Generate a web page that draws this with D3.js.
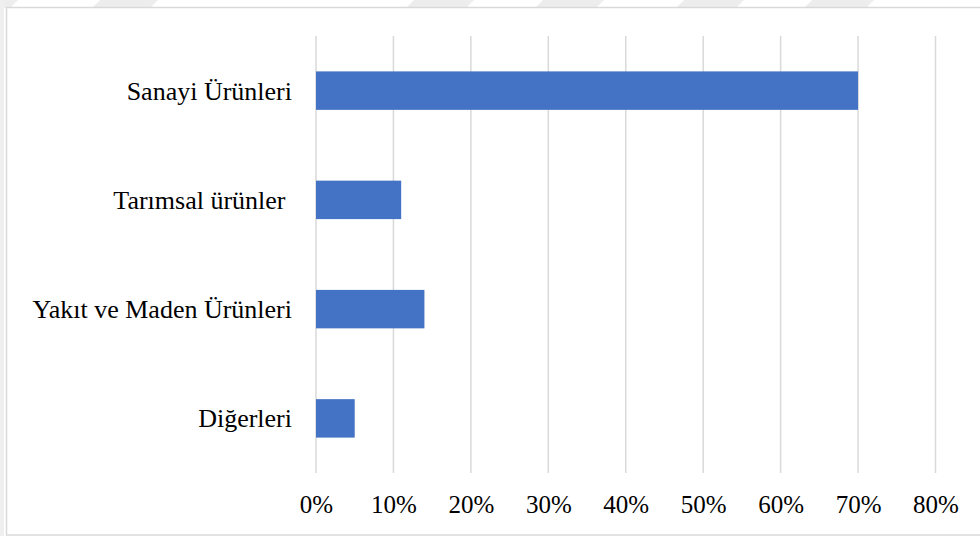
<!DOCTYPE html>
<html>
<head>
<meta charset="utf-8">
<script src="https://cdn.jsdelivr.net/npm/d3@7"></script>
<style>
  html, body { margin: 0; padding: 0; background: #ffffff; }
  svg { display: block; }
  text { font-family: "Liberation Serif", "Times New Roman", serif; fill: #000; }
</style>
</head>
<body>
<svg id="chart" width="980" height="536"></svg>
<script>
// Product groups and their shares
const categories = ["Sanayi Ürünleri", "Tarımsal ürünler ", "Yakıt ve Maden Ürünleri", "Diğerleri"];
const shares = [70, 11, 14, 5];
const tickValues = [0, 10, 20, 30, 40, 50, 60, 70, 80];
const tickLabels = ["0%", "10%", "20%", "30%", "40%", "50%", "60%", "70%", "80%"];

const svg = d3.select("#chart");
const W = 980, H = 536;

// faint diagonal background stripes along the top edge
const stripes = [[-40, 12], [94, 152], [408, 468], [537, 598], [678, 738], [806, 868]];
svg.append("g")
  .selectAll("polygon")
  .data(stripes)
  .join("polygon")
  .attr("points", d => `${d[0] + 6},0 ${d[1] + 6},0 ${d[1] - 2},8 ${d[0] - 2},8`)
  .attr("fill", "#ededed");
svg.append("rect").attr("x", 0).attr("y", 0).attr("width", 4).attr("height", H).attr("fill", "#efefef");

// chart frame
svg.append("rect")
  .attr("x", 6.5).attr("y", 7.5)
  .attr("width", W + 10).attr("height", 527.5)
  .attr("fill", "#fff")
  .attr("stroke", "#d9d9d9")
  .attr("stroke-width", 1.5);

const plot = { left: 316, right: 935.5, top: 36, bottom: 473 };

const x = d3.scaleLinear().domain([0, 80]).range([plot.left, plot.right]);
const y = d3.scaleBand()
  .domain(categories)
  .range([plot.top, plot.bottom])
  .paddingInner(0.648)
  .paddingOuter(0.324);

// vertical gridlines
svg.append("g")
  .selectAll("line")
  .data(tickValues)
  .join("line")
  .attr("x1", d => x(d)).attr("x2", d => x(d))
  .attr("y1", plot.top).attr("y2", plot.bottom)
  .attr("stroke", "#d9d9d9")
  .attr("stroke-width", 1.5);

// bars
svg.append("g")
  .selectAll("rect")
  .data(categories)
  .join("rect")
  .attr("x", x(0))
  .attr("y", d => y(d))
  .attr("width", (d, i) => x(shares[i]) - x(0))
  .attr("height", y.bandwidth())
  .attr("fill", "#4472c4");

// x-axis tick labels
const xAxis = d3.axisBottom(x)
  .tickValues(tickValues)
  .tickFormat((d, i) => tickLabels[i])
  .tickSize(0)
  .tickPadding(0);
const gx = svg.append("g")
  .attr("transform", `translate(0, ${plot.bottom})`)
  .call(xAxis);
gx.select(".domain").remove();
gx.selectAll("text")
  .attr("dy", null)
  .attr("y", 40)
  .style("font-family", '"Liberation Serif", "Times New Roman", serif')
  .style("font-size", "25px")
  .attr("fill", "#000");

// category labels
const yAxis = d3.axisLeft(y).tickSize(0).tickPadding(0);
const gy = svg.append("g")
  .attr("transform", `translate(292, 0)`)
  .call(yAxis);
gy.select(".domain").remove();
gy.selectAll("text")
  .attr("x", 0)
  .attr("dy", null)
  .attr("y", 9)
  .style("white-space", "pre")
  .attr("xml:space", "preserve")
  .style("font-family", '"Liberation Serif", "Times New Roman", serif')
  .style("font-size", "26px")
  .attr("fill", "#000");
</script>
</body>
</html>
